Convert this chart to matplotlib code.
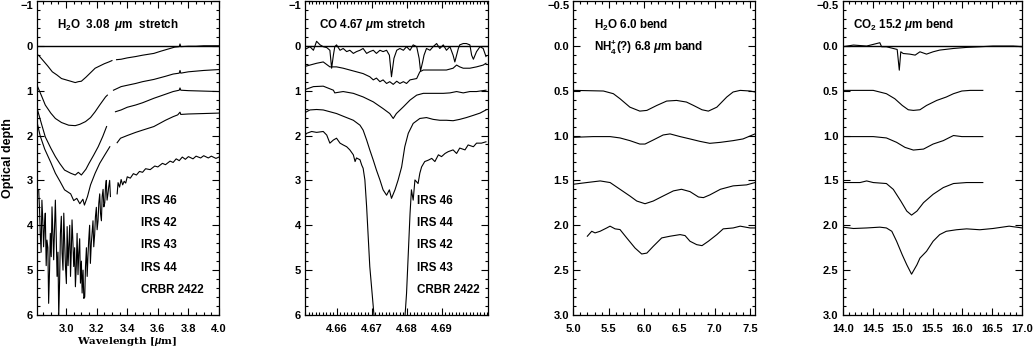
import numpy as np
import matplotlib
matplotlib.use("Agg")
from matplotlib import pyplot as plt
from matplotlib.ticker import MultipleLocator, FuncFormatter

nan = np.nan

# ---- panel 1: H2O 3.08 um stretch (wavelength in um, optical depth incl. offset)
w1_irs46 = [2.82, 2.85, 2.88, 2.91, 2.94, 2.97, 3.00, 3.03, 3.06, 3.08, 3.10, 3.13, 3.16, 3.19, 3.22, 3.25, 3.28, 3.30,
            nan, 3.33, 3.36, 3.40, 3.455, 3.50, 3.574, 3.62, 3.67, 3.71, 3.74, 3.745, 3.75, 3.80, 3.85, 3.90, 3.95, 4.00]
t1_irs46 = [0.21, 0.33, 0.45, 0.58, 0.65, 0.73, 0.76, 0.79, 0.82, 0.80, 0.79, 0.70, 0.60, 0.50, 0.45, 0.40, 0.36, 0.33,
            nan, 0.31, 0.30, 0.27, 0.24, 0.21, 0.17, 0.12, 0.07, 0.03, 0.02, -0.04, 0.02, 0.01, 0.01, 0.0, 0.0, 0.0]

w1_irs42 = [2.81, 2.84, 2.864, 2.90, 2.93, 2.97, 3.017, 3.06, 3.09, 3.127, 3.16, 3.19, 3.22, 3.258, 3.27,
            nan, 3.31, 3.36, 3.40, 3.455, 3.50, 3.574, 3.65, 3.70, 3.74, 3.745, 3.75, 3.80, 3.90, 4.00]
t1_irs42 = [0.88, 1.12, 1.32, 1.50, 1.62, 1.71, 1.77, 1.78, 1.75, 1.69, 1.60, 1.47, 1.32, 1.14, 1.10,
            nan, 0.99, 0.91, 0.88, 0.84, 0.80, 0.75, 0.68, 0.63, 0.61, 0.55, 0.61, 0.58, 0.55, 0.53]

w1_irs43 = [2.81, 2.84, 2.864, 2.90, 2.93, 2.96, 2.99, 3.03, 3.06, 3.08, 3.10, 3.13, 3.15, 3.18, 3.21, 3.24, 3.265,
            nan, 3.323, 3.36, 3.40, 3.455, 3.50, 3.574, 3.65, 3.70, 3.74, 3.745, 3.75, 3.80, 3.90, 4.00]
t1_irs43 = [1.39, 1.75, 2.03, 2.28, 2.47, 2.63, 2.77, 2.84, 2.88, 2.82, 2.88, 2.75, 2.62, 2.44, 2.25, 2.02, 1.80,
            nan, 1.47, 1.43, 1.37, 1.32, 1.27, 1.17, 1.08, 1.02, 0.99, 0.94, 0.99, 1.00, 1.01, 1.02]

w1_irs44 = [2.81, 2.83, 2.86, 2.90, 2.93, 2.96, 2.99, 3.03, 3.05, 3.07, 3.09, 3.11, 3.12, 3.14, 3.16, 3.19, 3.22, 3.25, 3.286,
            nan, 3.334, 3.356, 3.40, 3.455, 3.50, 3.574, 3.65, 3.70, 3.73, 3.745, 3.75, 3.80, 3.90, 4.00]
t1_irs44 = [1.70, 2.00, 2.30, 2.60, 2.84, 3.02, 3.21, 3.30, 3.45, 3.40, 3.52, 3.42, 3.55, 3.36, 3.10, 2.84, 2.62, 2.45, 2.25,
            nan, 2.16, 2.06, 2.00, 1.93, 1.88, 1.80, 1.66, 1.58, 1.54, 1.48, 1.53, 1.52, 1.51, 1.50]

w1_crbr = [2.821, 2.826, 2.831, 2.837, 2.842, 2.848, 2.853, 2.859, 2.864, 2.870,
           2.875, 2.881, 2.886, 2.892, 2.897, 2.903, 2.908, 2.914, 2.919, 2.925,
           2.930, 2.936, 2.941, 2.947, 2.952, 2.958, 2.963, 2.969, 2.974, 2.980,
           2.985, 2.991, 2.996, 3.002, 3.007, 3.013, 3.018, 3.024, 3.029, 3.034,
           3.039, 3.045, 3.050, 3.056, 3.061, 3.067, 3.072, 3.078, 3.083, 3.089,
           3.094, 3.100, 3.105, 3.111, 3.116, 3.122, 3.127, 3.133, 3.138, 3.143,
           3.148, 3.154, 3.159, 3.165, 3.170, 3.176, 3.181, 3.187, 3.192, 3.198,
           3.203, 3.209, 3.214, 3.220, 3.225, 3.231, 3.236, 3.242, 3.247, 3.253,
           3.258, 3.263, 3.268, 3.274, 3.279, 3.285, 3.290,
           nan, 3.334, 3.34, 3.35, 3.36, 3.37, 3.38, 3.39, 3.40, 3.42, 3.44, 3.46, 3.48, 3.50, 3.52, 3.55, 3.58,
           3.60, 3.63, 3.65, 3.68, 3.70, 3.72, 3.74, 3.76, 3.78, 3.80, 3.83, 3.85, 3.88, 3.90, 3.93, 3.95, 3.98, 4.00]
t1_crbr = [3.21, 3.6, 4.18, 4.6, 3.44, 3.9, 4.48, 4.0, 3.73, 4.9,
           4.33, 4.5, 5.74, 5.0, 4.18, 4.7, 3.59, 4.2, 4.77, 4.0,
           3.44, 4.3, 5.14, 4.6, 6.04, 5.2, 4.18, 3.8, 4.62, 5.0,
           3.73, 4.4, 4.92, 5.3, 4.03, 4.9, 4.48, 4.0, 5.14, 4.6,
           3.88, 4.4, 4.92, 4.5, 5.37, 4.9, 4.18, 5.1, 4.62, 4.3,
           5.29, 4.8, 5.51, 5.0, 5.63, 5.6, 4.92, 4.5, 5.14, 4.7,
           4.33, 4.0, 4.85, 4.4, 4.18, 3.9, 4.48, 4.2, 3.81, 3.6,
           4.10, 3.9, 3.51, 3.3, 3.73, 3.9, 3.36, 3.2, 3.59, 3.5,
           3.14, 3.0, 3.44, 3.3, 3.14, 3.0, 3.36,
           nan, 3.30, 3.05, 3.15, 2.98, 3.10, 3.02, 3.06, 2.92, 2.95, 2.85, 2.88, 2.80, 2.82, 2.74, 2.76, 2.68,
           2.70, 2.62, 2.65, 2.57, 2.60, 2.52, 2.56, 2.48, 2.53, 2.47, 2.52, 2.46, 2.50, 2.45, 2.50, 2.46, 2.51, 2.48]

# ---- panel 2: CO 4.67 um stretch
w2_irs46 = [4.6504, 4.6514, 4.6523, 4.6533, 4.6542, 4.6552, 4.6561, 4.6571, 4.6580, 4.6585, 4.6590, 4.6594, 4.6599,
            4.6609, 4.6618, 4.6628, 4.6637, 4.6647, 4.6656, 4.6666, 4.6675, 4.6685, 4.6694, 4.6704, 4.6713, 4.6723,
            4.6732, 4.6742, 4.6750, 4.6756, 4.6763, 4.6771, 4.6780, 4.6790, 4.6799, 4.6809, 4.6818, 4.6828, 4.6835,
            4.6839, 4.6845, 4.6849, 4.6856, 4.6866, 4.6875, 4.6885, 4.6894, 4.6904, 4.6913, 4.6923, 4.6932, 4.6937,
            4.6942, 4.6947, 4.6951, 4.6961, 4.6970, 4.6980, 4.6985, 4.6990, 4.6999, 4.7009, 4.7018, 4.7026]
t2_irs46 = [0.10, 0.06, 0.02, 0.10, -0.10, -0.02, 0.02, 0.04, 0.10, 0.50, 0.21, 0.02, -0.02,
            0.10, 0.06, 0.13, 0.10, 0.17, 0.13, 0.10, 0.06, 0.17, 0.13, 0.10, 0.17, 0.10,
            0.13, 0.10, 0.21, 0.69, 0.28, 0.10, 0.06, 0.10, 0.02, 0.10, -0.02, 0.02, 0.28,
            0.56, 0.36, 0.21, 0.06, 0.10, 0.02, -0.05, 0.06, -0.02, 0.10, 0.02, 0.21, 0.36,
            0.21, 0.06, -0.02, -0.05, -0.05, -0.02, 0.21, 0.30, 0.13, 0.02, 0.06, 0.24]

w2_irs44 = [4.6504, 4.6523, 4.6542, 4.6561, 4.6580, 4.6599, 4.6618, 4.6637, 4.6656, 4.6675, 4.6694, 4.6704, 4.6713,
            4.6723, 4.6732, 4.6742, 4.6751, 4.6761, 4.6771, 4.6780, 4.6790, 4.6799, 4.6809, 4.6828, 4.6837, 4.6847,
            4.6866, 4.6885, 4.6913, 4.6932, 4.6942, 4.6951, 4.6961, 4.6980, 4.6999, 4.7018, 4.7026]
t2_irs44 = [0.47, 0.43, 0.39, 0.36, 0.47, 0.47, 0.50, 0.54, 0.58, 0.62, 0.69, 0.76, 0.72,
            0.80, 0.76, 0.84, 0.80, 0.86, 0.79, 0.84, 0.80, 0.84, 0.76, 0.73, 0.58, 0.54,
            0.54, 0.54, 0.54, 0.50, 0.43, 0.47, 0.50, 0.50, 0.47, 0.43, 0.39]

w2_irs42 = [4.6504, 4.6533, 4.6561, 4.6590, 4.6594, 4.6618, 4.6647, 4.6675, 4.6704, 4.6732, 4.6751, 4.6761, 4.6770,
            4.6790, 4.6809, 4.6828, 4.6847, 4.6866, 4.6885, 4.6904, 4.6923, 4.6942, 4.6961, 4.6980, 4.6999, 4.7026]
t2_irs42 = [0.99, 0.91, 0.90, 0.99, 1.05, 1.02, 1.06, 1.14, 1.25, 1.40, 1.51, 1.62, 1.51,
            1.36, 1.21, 1.10, 1.06, 1.06, 1.06, 1.06, 1.05, 1.02, 1.05, 1.02, 1.02, 0.99]

w2_irs43 = [4.6504, 4.6523, 4.6542, 4.6561, 4.6580, 4.6599, 4.6618, 4.6647, 4.6666, 4.6675, 4.6685, 4.6694, 4.6704,
            4.6713, 4.6723, 4.6732, 4.6742, 4.6750, 4.6756, 4.6766, 4.6775, 4.6785, 4.6794, 4.6804, 4.6818, 4.6837,
            4.6856, 4.6875, 4.6894, 4.6913, 4.6932, 4.6951, 4.6970, 4.6990, 4.7009, 4.7026]
t2_irs43 = [1.51, 1.43, 1.42, 1.43, 1.47, 1.51, 1.57, 1.66, 1.77, 1.88, 2.10, 2.32, 2.55,
            2.77, 2.99, 3.21, 3.33, 3.21, 3.40, 3.21, 2.99, 2.70, 2.25, 1.95, 1.73, 1.62,
            1.60, 1.64, 1.66, 1.66, 1.67, 1.64, 1.60, 1.55, 1.50, 1.43]

w2_crbr = [4.6504, 4.6514, 4.6528, 4.6542, 4.6561, 4.6571, 4.6580, 4.6590, 4.6599, 4.6609, 4.6618, 4.6628, 4.6637,
           4.6647, 4.6652, 4.6656, 4.6666, 4.6671, 4.6675, 4.6680, 4.6685, 4.6690, 4.6694, 4.6699, 4.6704, 4.6707,
           4.6720, 4.6750, 4.6780, 4.6794, 4.6799, 4.6804, 4.6809, 4.6813, 4.6818, 4.6823, 4.6832, 4.6837, 4.6842,
           4.6851, 4.6861, 4.6871, 4.6880, 4.6890, 4.6899, 4.6909, 4.6918, 4.6932, 4.6942, 4.6951, 4.6966, 4.6975,
           4.6990, 4.6999, 4.7013, 4.7026]
t2_crbr = [2.03, 1.95, 1.91, 1.93, 1.91, 1.99, 2.17, 2.10, 2.06, 2.17, 2.21, 2.25, 2.32,
           2.43, 2.58, 2.50, 2.54, 2.66, 2.73, 2.99, 3.59, 4.33, 4.92, 5.37, 5.82, 6.10,
           6.80, 7.00, 6.80, 6.10, 5.52, 4.63, 3.74, 3.21, 3.44, 2.99, 3.07, 2.84, 2.70,
           2.58, 2.55, 2.51, 2.58, 2.43, 2.47, 2.40, 2.36, 2.32, 2.40, 2.28, 2.32, 2.21,
           2.25, 2.17, 2.17, 2.14]

# ---- panel 3: H2O 6.0 bend / NH4+ 6.8 um band
w3_a = [5.0, 5.19, 5.425, 5.566, 5.66, 5.80, 5.94, 6.04, 6.18, 6.32, 6.46, 6.60, 6.70, 6.82, 6.91, 7.03, 7.17, 7.26, 7.36, 7.50, 7.57]
t3_a = [0.497, 0.50, 0.504, 0.534, 0.59, 0.684, 0.728, 0.72, 0.665, 0.616, 0.609, 0.627, 0.665, 0.713, 0.728, 0.684, 0.571, 0.515, 0.497, 0.504, 0.515]

w3_b = [5.0, 5.28, 5.52, 5.66, 5.80, 5.94, 6.014, 6.13, 6.27, 6.368, 6.51, 6.65, 6.79, 6.93, 7.08, 7.26, 7.40, 7.57]
t3_b = [1.02, 1.012, 1.012, 1.027, 1.057, 1.095, 1.095, 1.05, 0.994, 0.982, 1.012, 1.038, 1.065, 1.087, 1.076, 1.057, 1.038, 0.982]

w3_c = [5.0, 5.19, 5.38, 5.52, 5.66, 5.80, 5.897, 6.014, 6.13, 6.27, 6.415, 6.53, 6.65, 6.77, 6.84, 6.93, 7.08, 7.26, 7.45, 7.57]
t3_c = [1.543, 1.524, 1.506, 1.524, 1.599, 1.674, 1.73, 1.76, 1.73, 1.674, 1.617, 1.599, 1.625, 1.685, 1.692, 1.662, 1.599, 1.561, 1.55, 1.524]

w3_d = [5.198, 5.26, 5.307, 5.378, 5.472, 5.519, 5.59, 5.66, 5.755, 5.873, 5.967, 6.04, 6.13, 6.25, 6.368, 6.51, 6.58, 6.65, 6.745, 6.82, 6.91, 7.03, 7.12, 7.26, 7.36, 7.50, 7.57]
t3_d = [2.122, 2.067, 2.085, 2.067, 2.03, 2.01, 2.04, 2.048, 2.141, 2.254, 2.32, 2.31, 2.235, 2.141, 2.122, 2.104, 2.115, 2.178, 2.216, 2.227, 2.178, 2.104, 2.04, 2.03, 2.01, 2.03, 2.03]

# ---- panel 4: CO2 15.2 um bend
w4_a = [14.0, 14.18, 14.40, 14.62, 14.65, 14.73, 14.845, 14.91, 14.945, 14.97, 15.01, 15.12, 15.21, 15.29, 15.40, 15.51, 15.62, 15.85, 16.07, 16.29, 16.51, 16.85, 17.0]
t4_a = [0.011, -0.008, 0.003, -0.034, 0.011, 0.011, 0.03, 0.041, 0.272, 0.067, 0.086, 0.093, 0.104, 0.067, 0.093, 0.067, 0.048, 0.03, 0.018, 0.011, 0.003, 0.003, 0.011]

w4_b = [14.0, 14.51, 14.73, 14.87, 14.995, 15.095, 15.18, 15.29, 15.40, 15.57, 15.73, 15.85, 15.99, 16.13, 16.34]
t4_b = [0.497, 0.497, 0.534, 0.59, 0.665, 0.713, 0.72, 0.713, 0.665, 0.609, 0.571, 0.534, 0.504, 0.497, 0.497]

w4_c = [14.0, 14.51, 14.73, 14.90, 15.04, 15.18, 15.35, 15.51, 15.68, 15.79, 15.85, 15.99, 16.34]
t4_c = [1.012, 1.012, 1.027, 1.076, 1.132, 1.162, 1.151, 1.095, 1.057, 1.02, 1.0, 1.012, 1.012]

w4_d = [14.0, 14.29, 14.40, 14.51, 14.73, 14.845, 14.97, 15.07, 15.15, 15.24, 15.35, 15.51, 15.68, 15.85, 16.07, 16.34]
t4_d = [1.524, 1.524, 1.506, 1.524, 1.535, 1.60, 1.73, 1.842, 1.887, 1.842, 1.748, 1.655, 1.58, 1.535, 1.524, 1.524]

w4_e = [14.0, 14.18, 14.40, 14.62, 14.73, 14.82, 14.90, 14.995, 15.07, 15.15, 15.24, 15.29, 15.40, 15.51, 15.62, 15.73, 15.90, 16.07, 16.29, 16.51, 16.78, 17.0]
t4_e = [2.021, 2.036, 2.03, 2.021, 2.03, 2.067, 2.178, 2.33, 2.44, 2.545, 2.44, 2.366, 2.29, 2.178, 2.104, 2.067, 2.05, 2.04, 2.05, 2.036, 2.01, 2.03]

labels_h2o = ["IRS 46", "IRS 42", "IRS 43", "IRS 44", "CRBR 2422"]
labels_co = ["IRS 46", "IRS 44", "IRS 42", "IRS 43", "CRBR 2422"]
label_rows = [3.47, 3.95, 4.45, 4.95, 5.45]

tickfont = "Liberation Sans"
textfont = "Liberation Sans"

plt.rcParams["mathtext.fontset"] = "custom"
plt.rcParams["mathtext.rm"] = "Liberation Sans:bold"
plt.rcParams["mathtext.bf"] = "Liberation Sans:bold"
plt.rcParams["mathtext.it"] = "Liberation Sans:bold:italic"

fig = plt.figure(figsize=(10.34, 3.49), dpi=100)

def minus(v, fmt):
    return (fmt % v).replace("-", "\u2212")

def setup(ax, xlim, ylim, xticks, xmin, yticks, ymin, xfmt, yfmt):
    ax.set_xticks(xticks)
    ax.set_yticks(yticks)
    ax.set_xlim(*xlim)
    ax.set_ylim(*ylim)
    ax.xaxis.set_minor_locator(MultipleLocator(xmin))
    ax.yaxis.set_minor_locator(MultipleLocator(ymin))
    ax.xaxis.set_major_formatter(FuncFormatter(lambda v, p: minus(v, xfmt)))
    ax.yaxis.set_major_formatter(FuncFormatter(lambda v, p: minus(v, yfmt)))
    ax.tick_params(which="both", direction="in", top=True, right=True, width=0.8)
    ax.tick_params(which="major", length=5)
    ax.tick_params(which="minor", length=2.5)
    ax.tick_params(axis="x", pad=6.5)
    ax.tick_params(axis="y", pad=3)
    for lab in ax.get_xticklabels() + ax.get_yticklabels():
        lab.set_fontfamily(tickfont)
        lab.set_fontweight("bold")
        lab.set_fontsize(8)
    # top label sits just inside the frame, as in the original
    ax.yaxis.get_major_ticks()[0].label1.set_verticalalignment("top")
    for s in ax.spines.values():
        s.set_linewidth(0.9)

lw = 0.8
tkw = dict(fontfamily=textfont, fontweight="bold", fontsize=8.4, va="center", ha="left")

# panel 1
ax1 = fig.add_axes([0.0358, 0.0974, 0.176, 0.900])
ax1.axhline(0, color="k", lw=1.0)
for w, t in [(w1_irs46, t1_irs46), (w1_irs42, t1_irs42), (w1_irs43, t1_irs43), (w1_irs44, t1_irs44), (w1_crbr, t1_crbr)]:
    ax1.plot(w, t, color="k", lw=lw)
setup(ax1, (2.81, 4.0), (6, -1), [3.0, 3.2, 3.4, 3.6, 3.8, 4.0], 0.05, [-1, 0, 1, 2, 3, 4, 5, 6], 0.2, "%.1f", "%d")
ax1.text(2.943, -0.46, "H$_\\mathbf{2}$O  3.08  $\\mu$m  stretch", **tkw)
for lab, yy in zip(labels_h2o, label_rows):
    ax1.text(3.487, yy, lab, **tkw)

# panel 2
ax2 = fig.add_axes([0.295, 0.0974, 0.1767, 0.900])
ax2.axhline(0, color="k", lw=1.0)
for w, t in [(w2_irs46, t2_irs46), (w2_irs44, t2_irs44), (w2_irs42, t2_irs42), (w2_irs43, t2_irs43), (w2_crbr, t2_crbr)]:
    ax2.plot(w, t, color="k", lw=lw)
setup(ax2, (4.6509, 4.7031), (6, -1), [4.66, 4.67, 4.68, 4.69], 0.001, [-1, 0, 1, 2, 3, 4, 5, 6], 0.2, "%.2f", "%d")
ax2.text(4.655, -0.46, "CO 4.67 $\\mu$m stretch", **tkw)
for lab, yy in zip(labels_co, label_rows):
    ax2.text(4.683, yy, lab, **tkw)

# panel 3
ax3 = fig.add_axes([0.5545, 0.0974, 0.1757, 0.900])
for w, t in [(w3_a, t3_a), (w3_b, t3_b), (w3_c, t3_c), (w3_d, t3_d)]:
    ax3.plot(w, t, color="k", lw=lw)
setup(ax3, (5.0, 7.57), (3.0, -0.5), [5.0, 5.5, 6.0, 6.5, 7.0, 7.5], 0.1,
      [-0.5, 0.0, 0.5, 1.0, 1.5, 2.0, 2.5, 3.0], 0.1, "%.1f", "%.1f")
ax3.text(5.293, -0.23, "H$_\\mathbf{2}$O 6.0 bend", **tkw)
ax3.text(5.293, 0.01, "NH$_\\mathbf{4}^\\mathbf{+}$(?) 6.8 $\\mu$m band", **tkw)

# panel 4
ax4 = fig.add_axes([0.815, 0.0974, 0.1737, 0.900])
ax4.axhline(0, color="k", lw=1.0)
for w, t in [(w4_a, t4_a), (w4_b, t4_b), (w4_c, t4_c), (w4_d, t4_d), (w4_e, t4_e)]:
    ax4.plot(w, t, color="k", lw=lw)
setup(ax4, (14.0, 17.0), (3.0, -0.5), [14.0, 14.5, 15.0, 15.5, 16.0, 16.5, 17.0], 0.1,
      [-0.5, 0.0, 0.5, 1.0, 1.5, 2.0, 2.5, 3.0], 0.1, "%.1f", "%.1f")
ax4.text(14.18, -0.23, "CO$_\\mathbf{2}$ 15.2 $\\mu$m bend", **tkw)

fig.text(8 / 1034, 1 - 158 / 349, "Optical depth", rotation=90, ha="center", va="center",
         fontfamily=tickfont, fontweight="bold", fontsize=9)
fig.text(127.5 / 1034, 1 - 341 / 349, "Wavelength [$\\mu$m]", ha="center", va="center",
         fontfamily="DejaVu Serif", fontweight="bold", fontsize=7.5)

fig.savefig("out.png", dpi=100)
